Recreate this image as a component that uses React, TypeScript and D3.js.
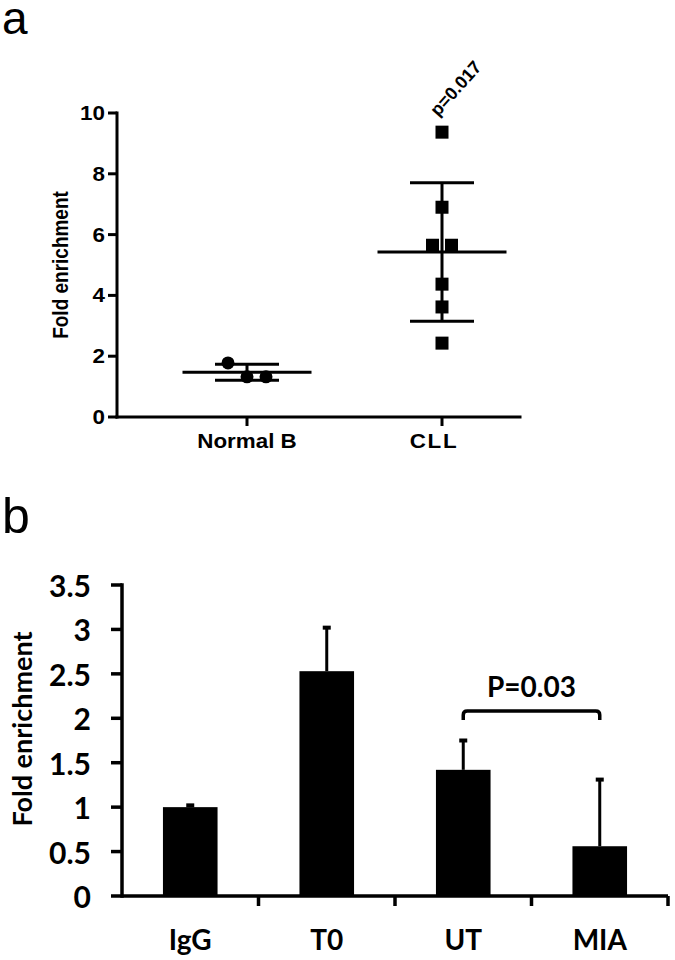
import React from "react";
import * as d3 from "d3";

// Panel a data
const groupsA = ["Normal B", "CLL"];
const normalB = [1.78, 1.32, 1.32];
const normalBSlots = [-1, 0, 1];
const cll = [9.37, 6.9, 5.65, 5.65, 4.37, 3.62, 2.43];
const cllSlots = [0, 0, -0.5, 0.5, 0, 0, 0];
const ticksA = [0, 2, 4, 6, 8, 10];
const pLabelA = "p=0.017";

// Panel b data
const catsB = ["IgG", "T0", "UT", "MIA"];
const meansB = [1.0, 2.53, 1.42, 0.56];
const errB = [0.02, 0.49, 0.33, 0.75];
const ticksB = [0, 0.5, 1, 1.5, 2, 2.5, 3, 3.5];
const pLabelB = "P=0.03";

const fontA = "'Liberation Sans', Arial, Helvetica, sans-serif";
const fontB = "Lato, Calibri, 'Open Sans', sans-serif";
const SX = 1.12; // horizontal stretch of panel a lettering

export default function App() {
  // ---------- Panel a ----------
  const yA = d3.scaleLinear().domain([0, 10]).range([417, 113]);
  const xA = d3.scalePoint<string>().domain(groupsA).range([247, 442]);
  const axLeftA = 117;
  const axRightA = 520;
  const slotW = 19;
  const seriesA = [
    { name: "Normal B", vals: normalB, slots: normalBSlots, shape: "circle" },
    { name: "CLL", vals: cll, slots: cllSlots, shape: "square" },
  ];

  // ---------- Panel b ----------
  const yB = d3.scaleLinear().domain([0, 3.5]).range([896, 585]);
  const xB = d3
    .scaleBand<string>()
    .domain(catsB)
    .range([122, 668])
    .paddingInner(0.6)
    .paddingOuter(0.3);
  const step = xB.step();
  const bw = xB.bandwidth();
  const fmtB = (v: number) => d3.format("~g")(v);

  const ut = xB("UT")! + bw / 2;
  const mia = xB("MIA")! + bw / 2;
  const brY = 711;
  const brD = 9;
  const r = 4;

  return (
    <svg
      width={675}
      height={960}
      style={{ position: "absolute", left: 0, top: 0, background: "#fff" }}
    >
      <rect x={0} y={0} width={675} height={960} fill="#fff" />
      {/* Panel letters */}
      <text x={2} y={34} fontSize={46} fontFamily={fontA} fill="#000">a</text>
      <text x={2} y={533} fontSize={50} fontFamily={fontA} fill="#000">b</text>

      {/* ===== Panel a ===== */}
      <g fontFamily={fontA} fontWeight="bold" fill="#000">
        {/* y axis */}
        <line x1={axLeftA} x2={axLeftA} y1={yA(10)} y2={yA(0)} stroke="#000" strokeWidth={3} strokeLinecap="square" />
        {ticksA.map((t) => (
          <g key={t}>
            <line x1={axLeftA - 9} x2={axLeftA} y1={yA(t)} y2={yA(t)} stroke="#000" strokeWidth={3} />
            <text
              transform={`translate(${axLeftA - 12},${yA(t)}) scale(${SX},1)`}
              textAnchor="end"
              dominantBaseline="central"
              fontSize={20}
            >
              {t}
            </text>
          </g>
        ))}
        {/* x axis */}
        <line x1={axLeftA} x2={axRightA} y1={yA(0)} y2={yA(0)} stroke="#000" strokeWidth={3} strokeLinecap="square" />
        {groupsA.map((g) => (
          <g key={g}>
            <line x1={xA(g)} x2={xA(g)} y1={yA(0)} y2={yA(0) + 9} stroke="#000" strokeWidth={3} />
            <text
              transform={`translate(${xA(g)! - (g === "CLL" ? 8 : 0)},448) scale(${SX},1)`}
              textAnchor="middle"
              fontSize={20}
              letterSpacing={g === "CLL" ? 1.5 : 0}
            >
              {g}
            </text>
          </g>
        ))}
        <text
          transform={`translate(61,${(yA(0) + yA(10)) / 2}) rotate(-90) scale(1,${SX})`}
          textAnchor="middle"
          dominantBaseline="central"
          fontSize={19}
        >
          Fold enrichment
        </text>

        {seriesA.map((s) => {
          const cx = xA(s.name)!;
          const mean = d3.mean(s.vals)!;
          const sd = d3.deviation(s.vals)!;
          return (
            <g key={s.name}>
              {s.vals.map((v, i) =>
                s.shape === "circle" ? (
                  <circle key={i} cx={cx + s.slots[i] * slotW} cy={yA(v)} r={6.5} fill="#000" />
                ) : (
                  <rect key={i} x={cx + s.slots[i] * slotW - 6.5} y={yA(v) - 6.5} width={13} height={13} fill="#000" />
                )
              )}
              <line x1={cx - 64.5} x2={cx + 64.5} y1={yA(mean)} y2={yA(mean)} stroke="#000" strokeWidth={3} />
              <line x1={cx} x2={cx} y1={yA(mean + sd)} y2={yA(mean - sd)} stroke="#000" strokeWidth={3} />
              <line x1={cx - 32} x2={cx + 32} y1={yA(mean + sd)} y2={yA(mean + sd)} stroke="#000" strokeWidth={3} />
              <line x1={cx - 32} x2={cx + 32} y1={yA(mean - sd)} y2={yA(mean - sd)} stroke="#000" strokeWidth={3} />
            </g>
          );
        })}
        <text
          transform={`translate(${xA("CLL")! - 4},${yA(d3.max(cll)!) - 15}) rotate(-48)`}
          fontSize={18}
        >
          {pLabelA}
        </text>
      </g>

      {/* ===== Panel b ===== */}
      <g fontFamily={fontB} fontWeight="bold" fill="#000">
        {catsB.map((c, i) => {
          const x0 = xB(c)!;
          const cx = x0 + bw / 2;
          const top = yB(meansB[i] + errB[i]);
          return (
            <g key={c}>
              <line x1={cx} x2={cx} y1={yB(meansB[i])} y2={top} stroke="#000" strokeWidth={3} />
              <rect x={cx - 4} y={top - 2} width={8} height={4} fill="#000" />
              <rect x={x0} y={yB(meansB[i])} width={bw} height={yB(0) - yB(meansB[i])} fill="#000" />
            </g>
          );
        })}
        {/* y axis */}
        <line x1={122} x2={122} y1={yB(3.5)} y2={yB(0)} stroke="#000" strokeWidth={3.5} strokeLinecap="square" />
        {ticksB.map((t) => (
          <g key={t}>
            <line x1={111} x2={122} y1={yB(t)} y2={yB(t)} stroke="#000" strokeWidth={3.5} />
            <text x={91} y={yB(t)} textAnchor="end" dominantBaseline="central" fontSize={30}>
              {fmtB(t)}
            </text>
          </g>
        ))}
        {/* x axis */}
        <line x1={122} x2={668} y1={yB(0)} y2={yB(0)} stroke="#000" strokeWidth={3.5} />
        {catsB.map((c) => (
          <g key={c}>
            <line
              x1={xB(c)! + bw + (step - bw) / 2}
              x2={xB(c)! + bw + (step - bw) / 2}
              y1={yB(0)}
              y2={yB(0) + 10}
              stroke="#000"
              strokeWidth={3.5}
            />
            <text x={xB(c)! + bw / 2} y={950} textAnchor="middle" fontSize={28}>
              {c}
            </text>
          </g>
        ))}
        <text
          transform={`translate(21,729) rotate(-90)`}
          textAnchor="middle"
          dominantBaseline="central"
          fontSize={27}
        >
          Fold enrichment
        </text>
        {/* significance bracket */}
        <path
          d={`M${ut},${brY + brD} L${ut},${brY + r} Q${ut},${brY} ${ut + r},${brY} L${mia - r},${brY} Q${mia},${brY} ${mia},${brY + r} L${mia},${brY + brD}`}
          fill="none"
          stroke="#000"
          strokeWidth={3.5}
        />
        <text x={(ut + mia) / 2} y={697} textAnchor="middle" fontSize={28}>
          {pLabelB}
        </text>
      </g>
    </svg>
  );
}
